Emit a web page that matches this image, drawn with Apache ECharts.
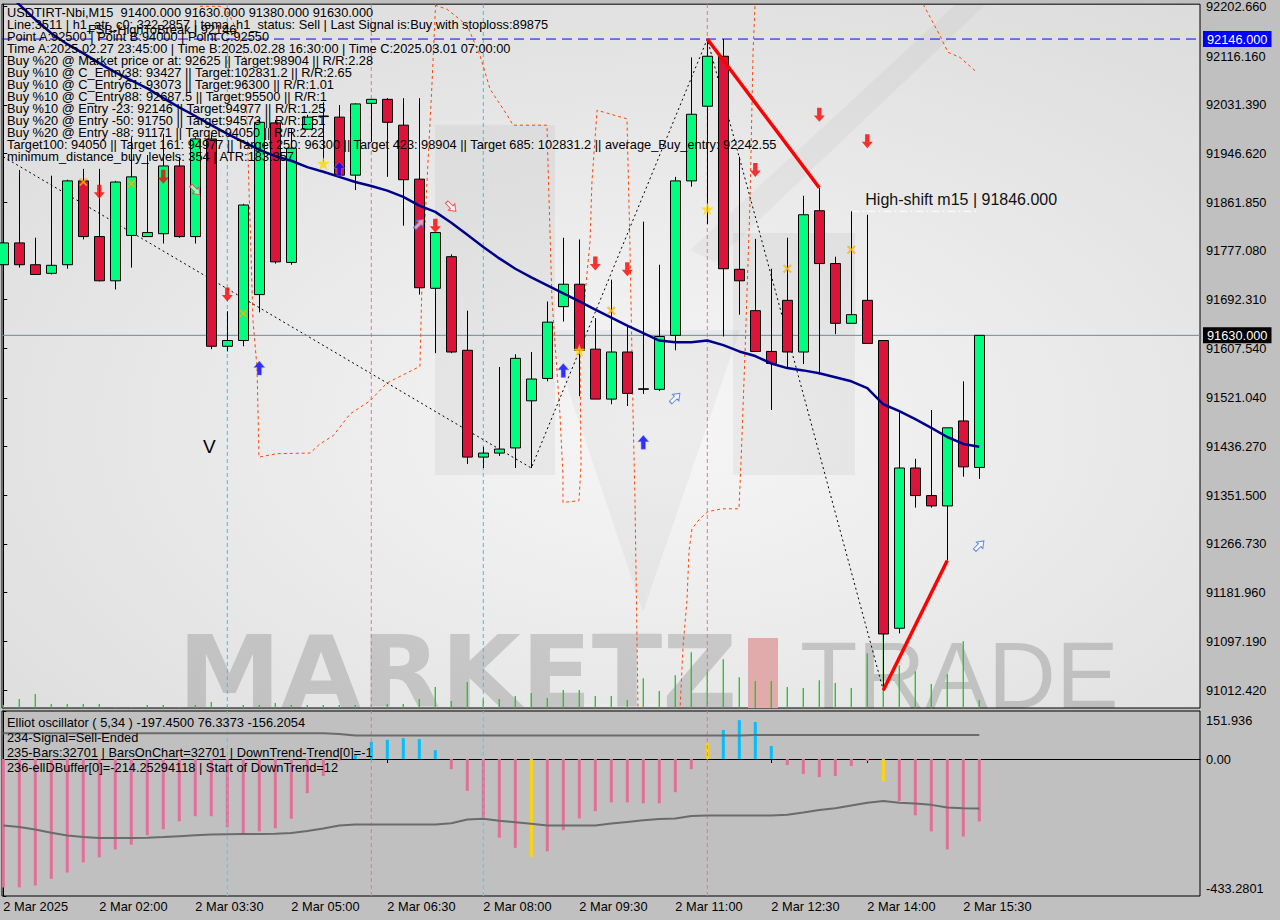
<!DOCTYPE html>
<html>
<head>
<meta charset="utf-8">
<script src="https://cdn.jsdelivr.net/npm/echarts@6/dist/echarts.min.js"></script>
<style>
  html, body { margin: 0; padding: 0; background: #c0c0c0; }
  #chart { width: 1280px; height: 920px; }
</style>
</head>
<body>
<div id="chart"></div>
<script>
// ---- USDTIRT-Nbi M15 session, 2 Mar 2025 ----
const timeLabels = ['2 Mar 2025', '2 Mar 02:00', '2 Mar 03:30', '2 Mar 05:00', '2 Mar 06:30', '2 Mar 08:00',
  '2 Mar 09:30', '2 Mar 11:00', '2 Mar 12:30', '2 Mar 14:00', '2 Mar 15:30'];
const barsPerLabel = 6;

const opens = [91753, 91791, 91753, 91738, 91753, 91899, 91802, 91725, 91804, 91802,
  91807, 91925, 91802, 91972, 91611, 91621, 91701, 92000, 91757, 91989,
  92012, 92010, 91909, 92034, 92041, 91996, 91902, 91712, 91767, 91604,
  91418, 91425, 91434, 91516, 91555, 91680, 91719, 91606, 91519, 91601,
  91536, 91536, 91630, 91899, 92029, 92116, 91745, 91673, 91602, 91691,
  91601, 91847, 91755, 91651, 91691, 91621, 91120, 91399, 91351, 91333,
  91481, 91400];
const closes = [91791, 91753, 91736, 91752, 91899, 91802, 91725, 91897, 91906, 91809,
  91925, 91802, 91972, 91611, 91621, 91857, 92001, 91758, 91956, 92010,
  92011, 91909, 92033, 92041, 92001, 91901, 91713, 91809, 91601, 91418,
  91425, 91432, 91590, 91554, 91653, 91719, 91604, 91519, 91601, 91529,
  91537, 91628, 91899, 92015, 92116, 91746, 91725, 91602, 91581, 91601,
  91840, 91755, 91651, 91666, 91616, 91110, 91399, 91351, 91333, 91469,
  91401, 91630];
const lows = [91753, 91748, 91736, 91736, 91746, 91797, 91724, 91710, 91748, 91802,
  91790, 91800, 91790, 91606, 91602, 91611, 91670, 91755, 91753, 91988,
  91932, 91906, 91883, 91967, 91906, 91821, 91701, 91599, 91599, 91406,
  91399, 91420, 91399, 91399, 91550, 91654, 91524, 91519, 91510, 91507,
  91528, 91533, 91604, 91889, 91824, 91628, 91666, 91601, 91500, 91573,
  91580, 91562, 91632, 91651, 91616, 91012, 91111, 91330, 91330, 91238,
  91384, 91380];
const highs = [91793, 91918, 91800, 91908, 91901, 91920, 91920, 91899, 91975, 91944,
  91981, 91941, 91975, 91979, 91672, 91859, 92005, 92005, 91989, 92014,
  92036, 92031, 92034, 92041, 92043, 92043, 92043, 91809, 91771, 91673,
  91436, 91575, 91597, 91601, 91689, 91800, 91797, 91660, 91727, 91646,
  91828, 91753, 91906, 92114, 92146, 92146, 91941, 91798, 91746, 91800,
  91873, 91887, 91767, 91846, 91840, 91621, 91496, 91415, 91500, 91469,
  91550, 91630];

// h1 tema projected on the M15 chart
const temaLine = [92234, 92206, 92180, 92156, 92137, 92121, 92104, 92088, 92074, 92060,
  92043, 92027, 92012, 91996, 91981, 91967, 91953, 91942, 91934, 91923,
  91915, 91906, 91897, 91890, 91882, 91871, 91856, 91845, 91826, 91805,
  91784, 91764, 91746, 91731, 91717, 91703, 91689, 91675, 91661, 91647,
  91634, 91621, 91618, 91618, 91621, 91613, 91602, 91594, 91581, 91573,
  91569, 91564, 91557, 91550, 91538, 91510, 91498, 91484, 91469, 91453,
  91441, 91436];

// tick volume (relative units)
const tickVolume = [30, 90, 140, 40, 40, 40, 40, 10, 10, 30,
  30, 10, 30, 60, 20, 30, 30, 50, 30, 30,
  30, 30, 30, 30, 40, 40, 90, 210, 70, 260,
  90, 90, 120, 150, 100, 180, 180, 120, 120, 80,
  300, 170, 330, 560, 360, 490, 310, 270, 270, 210,
  200, 280, 250, 200, 550, 880, 430, 370, 240, 340,
  670, 80];

// Elliot oscillator (5,34) histogram and its two envelope lines
const elliottHist = [-406, -406, -400, -379, -359, -327, -311, -286, -271, -241,
  -222, -197, -181, -181, -216, -234, -229, -219, -189, -108,
  -54, -5, 15, 54, 61, 66, 63, 28, -32, -101,
  -185, -249, -281, -309, -292, -225, -188, -165, -137, -137,
  -140, -140, -105, -32, 50, 92, 123, 117, 41, -19,
  -47, -57, -54, -22, -7, -70, -133, -178, -229, -286,
  -245, -197.45];
const elliottUpper = [81.5, 81.5, 81.5, 81.5, 81.5, 81.5, 81.5, 81.5, 81.5, 81.5,
  81.5, 81.5, 81.5, 81.5, 81.5, 81.5, 81.5, 81.5, 81.5, 81.5,
  81.5, 79, 74.5, 74.5, 74.5, 74.5, 74.5, 74.5, 74.5, 74.5,
  74.5, 74.5, 74.5, 74.5, 74.5, 74.5, 74.5, 74.5, 74.5, 74.5,
  74.5, 74.5, 74.5, 74.5, 74.5, 74.5, 74.5, 76.34, 76.34, 76.34,
  76.34, 76.34, 76.34, 76.34, 76.34, 76.34, 76.34, 76.34, 76.34, 76.34,
  76.34, 76.3373];
const elliottLower = [-210.5, -215, -223, -233, -242, -247, -250, -250, -250, -249,
  -247, -244, -241, -239, -238, -237, -237, -236, -234, -228,
  -220, -210.5, -207, -207, -207, -207, -207, -207, -203, -191,
  -189, -195, -200, -205, -210.5, -210.5, -210.5, -210.5, -204, -199,
  -194, -190, -188, -180, -179, -179, -179, -179, -179, -176,
  -169, -161, -156, -147, -138, -133, -138, -141, -145, -153,
  -156, -156.2054];
const signalBars = [33, 44, 55];

// price axis and oscillator axis tick labels
const priceTicks = [92202.66, 92116.16, 92031.39, 91946.62, 91861.85, 91777.08, 91692.31, 91607.54,
  91521.04, 91436.27, 91351.50, 91266.73, 91181.96, 91097.19, 91012.42];
const oscTicks = [151.936, 0, -433.2801];
const oscTickLabels = ['151.936', '0.00', '-433.2801'];

// levels
const lastPrice = 91630;
const breakLevel = 92146;
const highShift = 91846;
const highShiftBars = [53, 61];
const cyanBars = [14, 30];
const pinkBars = [23, 44];

// zigzag swings and trend segments [bar, price]
const zigzag = [[0, 91941], [33, 91399], [44, 92146], [55, 91012]];
const trendDown = [[44, 92146], [51, 91887]];
const trendUp = [[55, 91012], [59, 91238]];

// dashed channel segments [bar, price]
const channelA = [[11.98, 92197], [12.29, 92203], [13.54, 92203], [13.98, 92197], [14.36, 92175], [14.79, 92146],
  [15.11, 92110], [15.42, 91828], [15.61, 91654], [15.86, 91573], [15.98, 91418], [17.11, 91424],
  [19.17, 91425], [19.79, 91441], [20.61, 91455], [21.67, 91493], [22.92, 91516], [23.98, 91547],
  [26.04, 91576], [26.17, 91724], [26.48, 91897], [26.79, 92066], [27.04, 92220]];
const channelB = [[26.98, 92205], [27.73, 92198], [28.98, 92170], [29.79, 92118], [30.42, 92059], [31.48, 92014],
  [31.86, 91996], [33.98, 91996], [34.04, 91932], [34.29, 91694], [34.79, 91493], [34.98, 91385],
  [34.98, 91339], [35.98, 91342], [36.11, 91406], [36.04, 91608], [36.67, 91793], [36.79, 91897],
  [37.11, 92022], [38.98, 92007], [39.17, 91781], [39.36, 91493], [39.48, 91345], [39.67, 90975]];
const channelC = [[42.29, 90975], [42.48, 91087], [42.73, 91169], [42.86, 91255], [43.04, 91293], [43.54, 91311],
  [44.04, 91323], [44.92, 91328], [45.98, 91328], [46.11, 91411], [46.36, 91602], [46.67, 91863],
  [46.86, 92123], [46.98, 92204], [47.04, 92215]];
const channelD = [[57.29, 92215], [57.54, 92204], [58.54, 92152], [59.04, 92123], [59.79, 92114], [60.85, 92088]];

// signal markers [bar, price]
const sellArrows = [[6, 91880], [10, 91906], [14, 91701], [27, 91821], [37, 91755], [39, 91745], [47, 91918], [51, 92014], [54, 91968]];
const buyArrows = [[16, 91573], [21, 91920], [35, 91569], [40, 91444]];
const sellHints = [[12, 91883], [28, 91854]];
const buyHints = [[26, 91824], [42, 91521], [61, 91264]];
const stars = [[20, 91929], [44, 91850], [36, 91604]];
const crosses = [[5, 91897], [8, 91894], [15, 91668], [38, 91673], [49, 91746], [53, 91779]];

// info panel text
const infoLines = [
  'USDTIRT-Nbi,M15  91400.000 91630.000 91380.000 91630.000',
  'Line:3511 | h1_atr_c0: 322.2857 | tema_h1_status: Sell | Last Signal is:Buy with stoploss:89875',
  'Point A:92500 | Point B:94000 | Point C:92550',
  'Time A:2025.02.27 23:45:00 | Time B:2025.02.28 16:30:00 | Time C:2025.03.01 07:00:00',
  'Buy %20 @ Market price or at: 92625 || Target:98904 || R/R:2.28',
  'Buy %10 @ C_Entry38: 93427 || Target:102831.2 || R/R:2.65',
  'Buy %10 @ C_Entry61: 93073 || Target:96300 || R/R:1.01',
  'Buy %10 @ C_Entry88: 92687.5 || Target:95500 || R/R:1',
  'Buy %10 @ Entry -23: 92146 || Target:94977 || R/R:1.25',
  'Buy %20 @ Entry -50: 91750 || Target:94573 || R/R:1.51',
  'Buy %20 @ Entry -88: 91171 || Target:94050 || R/R:2.22',
  'Target100: 94050 || Target 161: 94977 || Target 250: 96300 || Target 423: 98904 || Target 685: 102831.2 || average_Buy_entry: 92242.55',
  'minimum_distance_buy_levels: 354 | ATR:183.357'
];
const breakText = 'FSB-HighToBreak | 92146';
const oscLines = [
  'Elliot oscillator ( 5,34 ) -197.4500 76.3373 -156.2054',
  '234-Signal=Sell-Ended',
  '235-Bars:32701 | BarsOnChart=32701 | DownTrend-Trend[0]=-1',
  '236-ellDBuffer[0]=-214.25294118 | Start of DownTrend=12'
];

// ---- layout ----
const FONT = 'Liberation Sans';
const FS = 12.8;
const X_MIN = -0.08125, X_MAX = 74.79375;     // 16 px per bar over a 1198 px plot
const PRICE_MIN = 90981.1, PRICE_MAX = 92206.7;
const VOL_MAX = 7070;

const labelSlots = timeLabels.map((_, i) => i * barsPerLabel);
const idx = arr => arr.map((v, i) => [i, v]);

const ARROW = 'path://M3,0 L7,0 L7,7 L10,7 L5,13 L0,7 L3,7 Z';
const STAR = 'path://M5,0 L6.2,3.6 L10,3.6 L6.9,5.8 L8.1,9.5 L5,7.2 L1.9,9.5 L3.1,5.8 L0,3.6 L3.8,3.6 Z';
const CROSS = 'path://M0,1 L1,0 L4,3 L7,0 L8,1 L5,4 L8,7 L7,8 L4,5 L1,8 L0,7 L3,4 Z';

const txt = (x, y, text, extra) => Object.assign({
  type: 'text', x, y, z: 100, silent: true,
  style: Object.assign({ text, fill: '#000', font: `${FS}px "${FONT}"`, lineHeight: 12, align: 'left', verticalAlign: 'middle', textAlign: 'left', textVerticalAlign: 'middle' }, extra || {})
});

const graphics = [
  // faint logo behind the price chart
  { type: 'rect', z: 1, silent: true, shape: { x: 435, y: 125, width: 120, height: 350 }, style: { fill: 'rgba(0,0,0,0.045)' } },
  { type: 'rect', z: 1, silent: true, shape: { x: 733, y: 233, width: 122, height: 242 }, style: { fill: 'rgba(0,0,0,0.045)' } },
  { type: 'polygon', z: 1, silent: true, shape: { points: [[548, 330], [740, 330], [643, 612]] }, style: { fill: 'rgba(0,0,0,0.035)' } },
  { type: 'polygon', z: 1, silent: true, shape: { points: [[690, 250], [955, 5], [985, 5], [715, 262]] }, style: { fill: 'rgba(0,0,0,0.03)' } },
  { type: 'text', z: 1, silent: true, x: 178, y: 673, scaleX: 1.035, style: { text: 'MARKETZ', font: 'bold 100px "DejaVu Sans"', lineHeight: 70, fill: 'rgba(0,0,0,0.15)', verticalAlign: 'middle', textVerticalAlign: 'middle' } },
  { type: 'rect', z: 1, silent: true, shape: { x: 748, y: 638, width: 30, height: 70 }, style: { fill: '#e2abab' } },
  { type: 'text', z: 1, silent: true, x: 800, y: 675, style: { text: 'TRADE', font: '94px "Liberation Sans"', lineHeight: 66, fill: 'rgba(0,0,0,0.16)', verticalAlign: 'middle', textVerticalAlign: 'middle' } },
  // text blocks
  ...infoLines.map((s, i) => txt(7, 12.5 + 12 * i, s)),
  txt(88, 29.5, breakText),
  ...oscLines.map((s, i) => txt(7, 722 + 15 * i, s, { lineHeight: 14 })),
  txt(203, 446, 'V', { font: `19px "${FONT}"`, lineHeight: 18 })
];

const chart = echarts.init(document.getElementById('chart'), null, { renderer: 'svg', width: 1280, height: 920 });

const axisFont = { color: '#000', fontFamily: FONT, fontSize: FS };

// straight reference lines drawn as two-point series
const refLine = (xAxisIndex, yAxisIndex, data, lineStyle, extra) => Object.assign({
  type: 'line', xAxisIndex, yAxisIndex, data, symbol: 'none', z: 4, silent: true, lineStyle
}, extra || {});
const vLine = (xAxisIndex, yAxisIndex, bar, lo, hi, color) =>
  refLine(xAxisIndex, yAxisIndex, [[bar, lo], [bar, hi]], { color, type: [4, 3], width: 1 });
const priceTag = (value, bg) => ({
  endLabel: Object.assign({
    show: true, distance: 3, formatter: () => value.toFixed(3),
    backgroundColor: bg, padding: [2, 4, 1, 4]
  }, axisFont, { color: '#fff' })
});

chart.setOption({
  animation: false,
  backgroundColor: '#c0c0c0',
  graphic: graphics,
  grid: [
    {
      left: 2, right: 80, top: 1, height: 707, show: true, borderColor: '#000', borderWidth: 1, z: 0,
      backgroundColor: { type: 'radial', x: 0.55, y: 0.6, r: 1, colorStops: [{ offset: 0, color: '#f6f6f6' }, { offset: 1, color: '#d3d3d3' }] }
    },
    { left: 2, right: 80, top: 711, height: 185, show: true, borderColor: '#000', borderWidth: 1, backgroundColor: '#c0c0c0', z: 0 }
  ],
  xAxis: [
    { type: 'value', gridIndex: 0, min: X_MIN, max: X_MAX, show: false },
    {
      type: 'value', gridIndex: 1, min: X_MIN, max: X_MAX,
      axisLine: { show: true, lineStyle: { color: '#000' } },
      axisTick: { show: true, customValues: labelSlots, length: 4, lineStyle: { color: '#000' } },
      axisLabel: Object.assign({ customValues: labelSlots, align: 'left', margin: 4, formatter: v => timeLabels[labelSlots.indexOf(Math.round(v))] || '' }, axisFont),
      splitLine: { show: false }
    }
  ],
  yAxis: [
    {
      type: 'value', gridIndex: 0, position: 'right', min: PRICE_MIN, max: PRICE_MAX,
      axisLine: { show: true, lineStyle: { color: '#000' } },
      axisTick: { show: true, customValues: priceTicks, length: 4, lineStyle: { color: '#000' } },
      axisLabel: Object.assign({ customValues: priceTicks, margin: 6, showMinLabel: true, showMaxLabel: true, formatter: v => v.toFixed(3) }, axisFont),
      splitLine: { show: false }
    },
    { type: 'value', gridIndex: 0, min: 0, max: VOL_MAX, show: false },
    {
      type: 'value', gridIndex: 1, position: 'right', min: oscTicks[2], max: oscTicks[0],
      axisLine: { show: true, lineStyle: { color: '#000' } },
      axisTick: { show: true, customValues: oscTicks, length: 3, lineStyle: { color: '#000' } },
      axisLabel: Object.assign({
        customValues: oscTicks, margin: 6, showMinLabel: true, showMaxLabel: true,
        formatter: v => {
          const i = oscTicks.findIndex(t => Math.abs(t - v) < 1e-6);
          const s = oscTickLabels[i] || '';
          if (i === 0) return `{top|${s}}`;
          if (i === 2) return `{bot|${s}}`;
          return s;
        },
        rich: {
          top: Object.assign({ padding: [18, 0, 0, 0] }, axisFont),
          bot: Object.assign({ padding: [0, 0, 16, 0] }, axisFont)
        }
      }, axisFont),
      splitLine: { show: false }
    }
  ],
  series: [
    {
      name: 'Tick volume', type: 'bar', xAxisIndex: 0, yAxisIndex: 1, z: 3, silent: true,
      data: idx(tickVolume), barWidth: 1.4, itemStyle: { color: '#2ec42e' }
    },
    // session separators
    ...cyanBars.map(b => vLine(0, 0, b, PRICE_MIN, PRICE_MAX, '#22cfe0')),
    ...pinkBars.map(b => vLine(0, 0, b, PRICE_MIN, PRICE_MAX, '#f06aa8')),
    // dashed channel
    ...[channelA, channelB, channelC, channelD].map(seg => ({
      type: 'line', xAxisIndex: 0, yAxisIndex: 0, data: seg, symbol: 'none', z: 4, silent: true,
      lineStyle: { color: '#ff4500', width: 1, type: [3, 3] }
    })),
    {
      name: 'ZigZag', type: 'line', xAxisIndex: 0, yAxisIndex: 0, data: zigzag, symbol: 'none', z: 4, silent: true,
      lineStyle: { color: '#000', width: 1, type: [2, 3] }
    },
    // price levels with axis tags
    refLine(0, 0, [[X_MIN, lastPrice], [X_MAX, lastPrice]], { color: '#778899', width: 1 }, priceTag(lastPrice, '#000')),
    refLine(0, 0, [[X_MIN, breakLevel], [X_MAX, breakLevel]], { color: '#0000ff', type: [10, 6], width: 1 }, priceTag(breakLevel, '#0000ff')),
    refLine(0, 0, [
      {
        value: [highShiftBars[0], highShift], symbol: 'circle', symbolSize: 0.1,
        label: { show: true, position: 'top', align: 'left', distance: 4, offset: [14, 0], formatter: `High-shift m15 | ${highShift.toFixed(3)}`, color: '#111', fontFamily: FONT, fontSize: 16 }
      },
      [highShiftBars[1], highShift]
    ], { color: '#ffffff', type: [8, 3, 2, 3], width: 1 }, { showSymbol: true, symbol: 'none' }),
    {
      name: 'USDTIRT-Nbi,M15', type: 'candlestick', xAxisIndex: 0, yAxisIndex: 0, z: 5, silent: true,
      data: opens.map((o, i) => [i, o, closes[i], lows[i], highs[i]]),
      barWidth: 10,
      itemStyle: { color: '#00ff7f', color0: '#dc143c', borderColor: '#000', borderColor0: '#000', borderWidth: 1 }
    },
    {
      name: 'tema h1', type: 'line', xAxisIndex: 0, yAxisIndex: 0, data: idx(temaLine), symbol: 'none', z: 6, silent: true,
      lineStyle: { color: '#00008b', width: 2.5 }
    },
    ...[trendDown, trendUp].map(seg => ({
      type: 'line', xAxisIndex: 0, yAxisIndex: 0, data: seg, symbol: 'none', z: 6, silent: true,
      lineStyle: { color: '#ff0000', width: 3.5 }
    })),
    { type: 'scatter', xAxisIndex: 0, yAxisIndex: 0, data: sellArrows, symbol: ARROW, symbolSize: [11, 14], z: 7, silent: true, itemStyle: { color: '#ff0000' } },
    { type: 'scatter', xAxisIndex: 0, yAxisIndex: 0, data: buyArrows, symbol: ARROW, symbolSize: [11, 14], symbolRotate: 180, z: 7, silent: true, itemStyle: { color: '#0000ff', borderColor: '#7d8cff', borderWidth: 0.6 } },
    { type: 'scatter', xAxisIndex: 0, yAxisIndex: 0, data: sellHints, symbol: ARROW, symbolSize: [9, 13], symbolRotate: 45, z: 7, silent: true, itemStyle: { color: 'rgba(255,255,255,0.7)', borderColor: '#ff3030', borderWidth: 1 } },
    { type: 'scatter', xAxisIndex: 0, yAxisIndex: 0, data: buyHints, symbol: ARROW, symbolSize: [9, 13], symbolRotate: 135, z: 7, silent: true, itemStyle: { color: 'rgba(255,255,255,0.7)', borderColor: '#3a6fe0', borderWidth: 1 } },
    { type: 'scatter', xAxisIndex: 0, yAxisIndex: 0, data: stars, symbol: STAR, symbolSize: 13, z: 7, silent: true, itemStyle: { color: '#ffd700' } },
    { type: 'scatter', xAxisIndex: 0, yAxisIndex: 0, data: crosses, symbol: CROSS, symbolSize: 8, z: 7, silent: true, itemStyle: { color: '#ffc400', borderColor: '#f08a00', borderWidth: 0.5 } },
    // oscillator panel
    ...cyanBars.map(b => vLine(1, 2, b, oscTicks[2], oscTicks[0], '#22e0f0')),
    ...pinkBars.map(b => vLine(1, 2, b, oscTicks[2], oscTicks[0], '#f06aa8')),
    {
      name: 'Elliot oscillator', type: 'bar', xAxisIndex: 1, yAxisIndex: 2, z: 3, silent: true, barWidth: 3,
      data: elliottHist.map((v, i) => ({
        value: [i, v],
        itemStyle: { color: signalBars.includes(i) ? '#ffd700' : (v >= 0 ? '#00bfff' : '#e0709a') }
      }))
    },
    ...[elliottUpper, elliottLower].map(arr => ({
      type: 'line', xAxisIndex: 1, yAxisIndex: 2, data: idx(arr), symbol: 'none', z: 4, silent: true,
      lineStyle: { color: '#6b6b6b', width: 2 }
    }))
  ]
});
</script>
</body>
</html>
